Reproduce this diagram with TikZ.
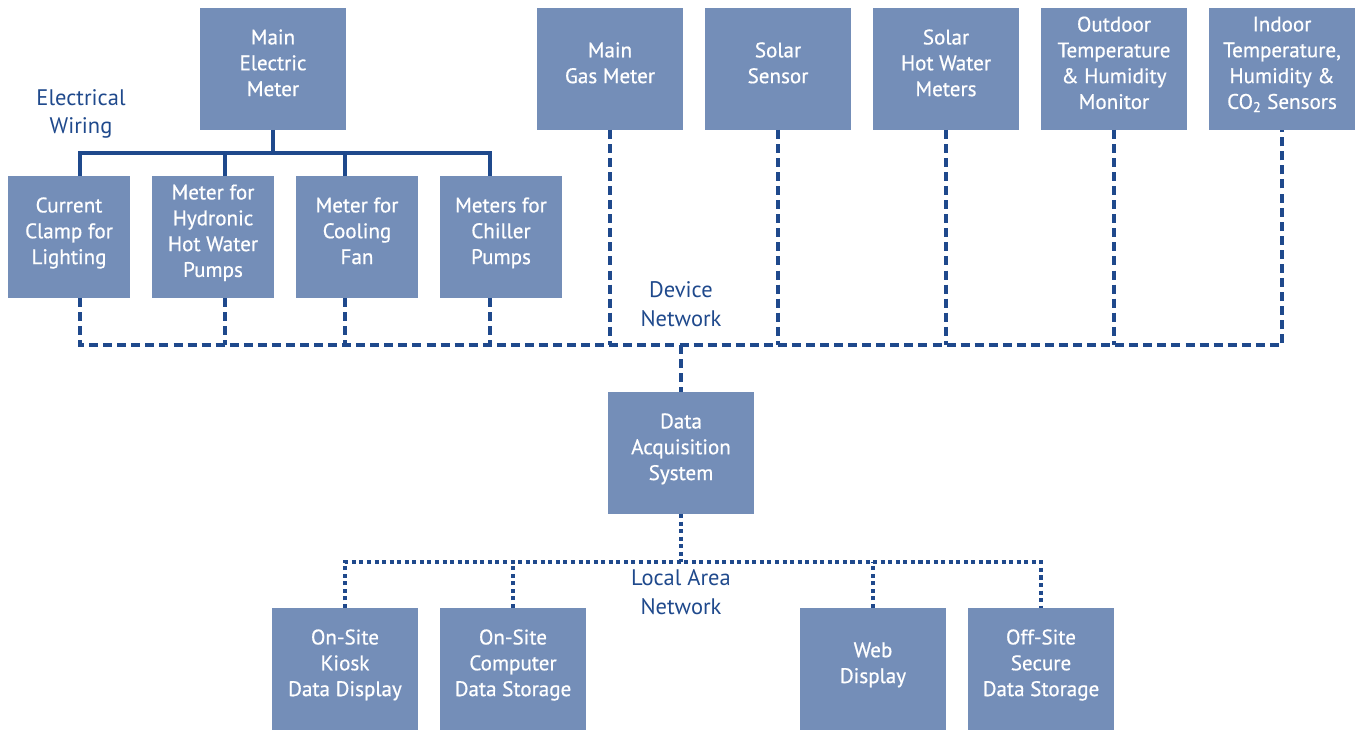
\documentclass[tikz,border=0pt]{standalone}
\usepackage{fontspec}
\setmainfont{PT Sans}
\newfontfamily\meterfont[FakeBold=0.6]{PT Sans}
\usetikzlibrary{positioning}
\usetikzlibrary{calc}
\definecolor{boxblue}{RGB}{116,142,184}
\definecolor{lineblue}{RGB}{31,73,140}
\tikzset{
  meter/.style={draw=none,fill=boxblue,text=white,align=center,inner sep=0pt,outer sep=0pt,
    minimum width=2.44cm,minimum height=2.44cm,text depth=0.25cm,
    font=\meterfont\fontsize{12}{14.7}\selectfont},
  widemeter/.style={meter,minimum width=2.92cm},
  wire/.style={lineblue,line width=1.75pt},
  devnet/.style={lineblue,line width=1.75pt,dash pattern=on 5.1pt off 2.9pt},
  lan/.style={lineblue,line width=1.75pt,dash pattern=on 2.3pt off 2pt},
  netlabel/.style={text=lineblue,align=center,inner sep=0pt,font=\fontsize{12.8}{16.2}\selectfont}
}
\begin{document}
\begin{tikzpicture}[x=0.02cm,y=-0.02cm]
\useasboundingbox (0,0) rectangle (1357,730);

% top row
\node[widemeter] (elec) at (273,69) {Main\\Electric\\Meter};
\node[widemeter] (gas) at (610,69) {Main\\Gas Meter};
\node[widemeter] (solar) at (778,69) {Solar\\Sensor};
\node[widemeter] (hotwater) at (946,69) {Solar\\Hot Water\\Meters};
\node[widemeter] (outdoor) at (1114,69) {Outdoor\\Temperature\\\& Humidity\\Monitor};
\node[widemeter] (indoor) at (1282,69) {Indoor\\Temperature,\\Humidity \&\\CO\textsubscript{2} Sensors};

% sub meters
\node[meter] (clamp) at (69,237) {Current\\Clamp for\\Lighting};
\node[meter] (hydronic) at (213,237) {Meter for\\Hydronic\\Hot Water\\Pumps};
\node[meter] (fan) at (357,237) {Meter for\\Cooling\\Fan};
\node[meter] (chiller) at (501,237) {Meters for\\Chiller\\Pumps};

\node[widemeter] (daq) at (681,453) {Data\\Acquisition\\System};

% outputs
\node[widemeter] (kiosk) at (345,669) {On-Site\\Kiosk\\Data Display};
\node[widemeter] (computer) at (513,669) {On-Site\\Computer\\Data Storage};
\node[widemeter] (web) at (873,669) {Web\\Display};
\node[widemeter] (offsite) at (1041,669) {Off-Site\\Secure\\Data Storage};

\node[netlabel] (wiringlbl) at (81,114) {Electrical\\Wiring};
\node[netlabel] (devlbl) at (681,304) {Device\\Network};
\node[netlabel] (lanlbl) at (681,592) {Local Area\\Network};

\coordinate (wbus) at (273,153);
\coordinate (devbus) at (681,345);
\coordinate (lanbus) at (681,562);

\coordinate (t1) at ($(clamp.north)+(11,0)$);
\coordinate (t2) at ($(hydronic.north)+(12,0)$);
\coordinate (t3) at ($(fan.north)+(-12,0)$);
\coordinate (t4) at ($(chiller.north)+(-11,0)$);
\coordinate (b1) at ($(clamp.south)+(11,0)$);
\coordinate (b2) at ($(hydronic.south)+(12,0)$);
\coordinate (b3) at ($(fan.south)+(-12,0)$);
\coordinate (b4) at ($(chiller.south)+(-11,0)$);

% electrical wiring
\draw[wire] (elec.south) -- (wbus);
\draw[wire] (t1) |- (wbus) -| (t4);
\draw[wire] (t2) -- (t2 |- wbus);
\draw[wire] (t3) -- (t3 |- wbus);

% device network
\draw[devnet] (b1) |- (devbus -| indoor.south) -- (indoor.south);
\draw[devnet] (b2) -- (b2 |- devbus);
\draw[devnet] (b3) -- (b3 |- devbus);
\draw[devnet] (b4) -- (b4 |- devbus);
\draw[devnet] (gas.south) -- (gas.south |- devbus);
\draw[devnet] (solar.south) -- (solar.south |- devbus);
\draw[devnet] (hotwater.south) -- (hotwater.south |- devbus);
\draw[devnet] (outdoor.south) -- (outdoor.south |- devbus);
\draw[devnet] (devbus) -- (daq.north);

% local area network
\draw[lan] (daq.south) -- (lanbus);
\draw[lan] (kiosk.north) |- (lanbus -| offsite.north) -- (offsite.north);
\draw[lan] (computer.north) -- (computer.north |- lanbus);
\draw[lan] (web.north) -- (web.north |- lanbus);
\end{tikzpicture}
\end{document}
